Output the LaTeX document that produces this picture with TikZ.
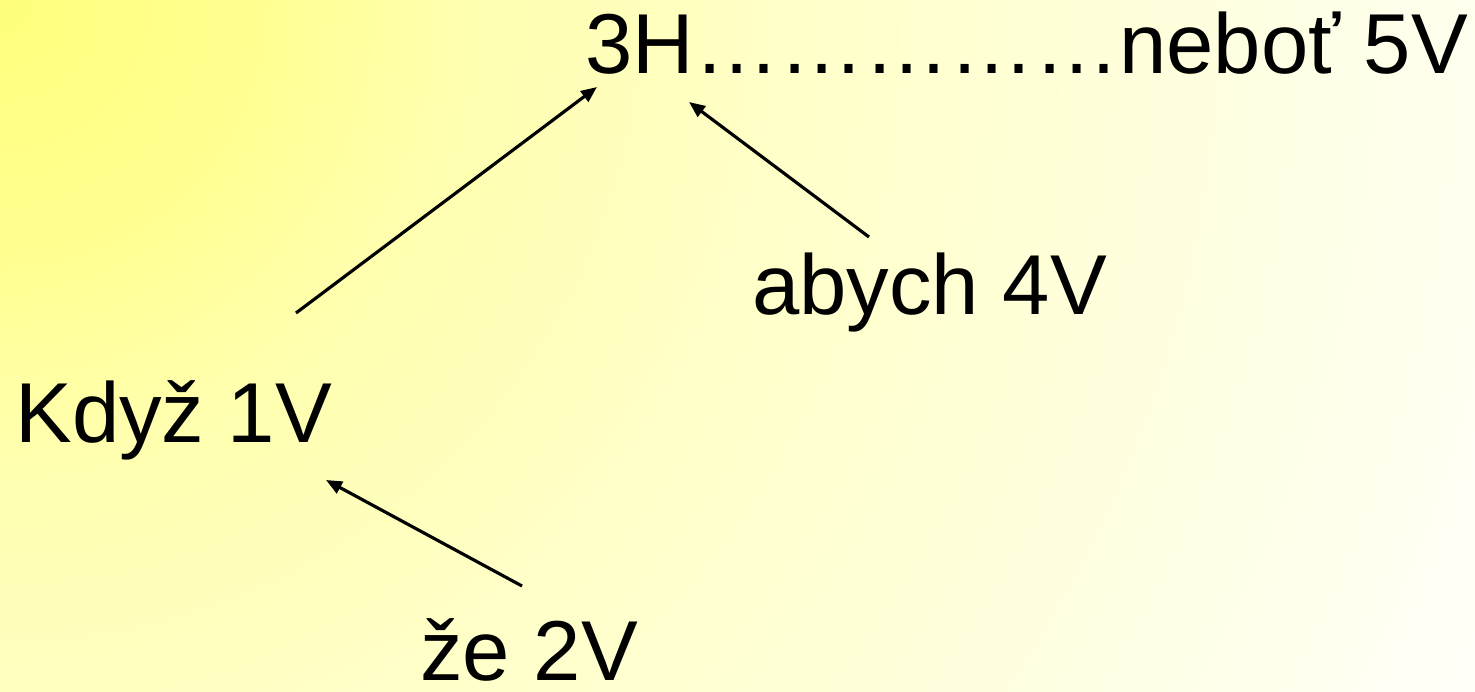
\documentclass[tikz,border=0pt]{standalone}
\usepackage{fontspec}
\setmainfont{Liberation Sans}
\usetikzlibrary{arrows.meta}
\definecolor{glowA}{RGB}{255,255,125}
\definecolor{glowB}{RGB}{255,255,145}
\definecolor{glowC}{RGB}{255,255,175}
\definecolor{glowD}{RGB}{255,255,200}
\definecolor{glowE}{RGB}{255,255,218}
\definecolor{glowF}{RGB}{255,255,248}
\pgfdeclareradialshading{bgglow}{\pgfpointorigin}{color(0bp)=(glowA); color(4bp)=(glowB); color(7bp)=(glowC); color(12bp)=(glowD); color(17bp)=(glowE); color(25bp)=(glowF); color(50bp)=(glowF)}

\begin{document}
\begin{tikzpicture}[
  word/.style={anchor=base west, inner sep=0pt, font=\fontsize{48.4}{58}\selectfont},
  link/.style={line width=1.8pt, -{Triangle[length=0.32cm,width=0.26cm]}}]
\useasboundingbox (0,0) rectangle (29.5,13.82);

% background
\begin{scope}
\clip (0,0) rectangle (29.5,13.82);
\shade[shading=bgglow] (0,13.82) circle (32.6);
\end{scope}

% clauses
\node[word] (hlavni) at (11.70,12.34) {3H……………neboť 5V};
\node[word] (abych) at (15.04,7.52) {abych 4V};
\node[word] (kdyz) at (0.30,4.98) {Když 1V};
\node[word] (ze) at (8.40,0.22) {že 2V};

% arrow ends
\coordinate (kdyzT) at (5.92,7.56);
\coordinate (hlavniL) at (11.94,12.08);
\coordinate (abychT) at (17.38,9.08);
\coordinate (hlavniR) at (13.78,11.78);
\coordinate (zeT) at (10.44,2.10);
\coordinate (kdyzB) at (6.52,4.22);

% dependencies
\draw[link] (kdyzT)--(hlavniL);
\draw[link] (abychT)--(hlavniR);
\draw[link] (zeT)--(kdyzB);
\end{tikzpicture}
\end{document}
